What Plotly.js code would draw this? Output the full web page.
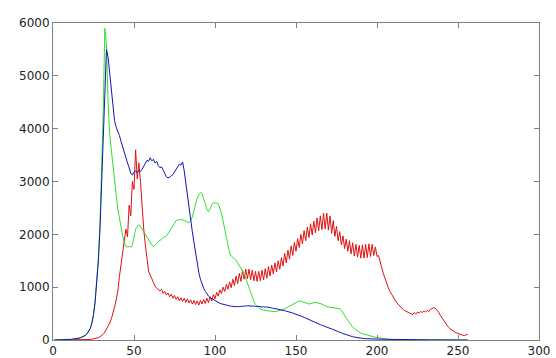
<!DOCTYPE html>
<html>
<head>
<meta charset="utf-8">
<script src="https://cdn.plot.ly/plotly-3.0.1.min.js"></script>
<style>html,body{margin:0;padding:0;background:#fff;}#chart{width:556px;height:358px;}</style>
</head>
<body>
<div id="chart"></div>
<script>
// Histogram counts per intensity bin (bins 1..256)
var blueCounts = [
0,0,0,0,2,3,5,6,8,10,12,15,18,22,28,35,45,55,70,90,
120,160,220,320,480,720,1050,1500,2100,2900,3900,4800,5500,5350,5050,4750,4420,4150,4030,3960,
3870,3760,3650,3530,3430,3350,3260,3160,3120,3180,3200,3170,3210,3190,3230,3290,3350,3400,3380,3450,
3390,3420,3350,3380,3300,3260,3280,3220,3150,3090,3070,3080,3110,3130,3180,3230,3280,3330,3310,3370,
3200,2950,2750,2500,2250,2050,1850,1650,1450,1280,1150,1050,980,920,870,830,800,780,760,740,
720,705,695,685,675,665,660,650,645,640,635,640,630,635,630,640,635,645,640,650,
645,650,640,645,635,640,630,635,625,630,620,625,615,610,605,600,595,590,580,575,
570,560,555,545,540,530,520,510,500,490,480,470,455,445,430,415,400,385,375,360,
345,330,315,300,290,280,265,255,245,235,220,210,195,185,170,160,148,135,122,110,
98,88,78,70,62,55,48,42,37,33,30,27,25,23,21,19,18,17,16,15,
15,14,14,13,13,12,12,12,11,11,10,10,10,9,9,9,8,8,8,7,
7,7,6,6,6,5,5,5,4,4,4,3,3,3,3,2,2,2,2,2,
1,1,1,1,1,1,1,0,0,0,0,0,0,0,0,0
];
var greenCounts = [
0,0,0,0,2,3,5,6,8,10,12,15,18,22,28,30,40,50,65,85,
115,155,215,320,480,730,1080,1550,2200,3100,4300,5900,5600,4500,3900,3600,3350,3000,2750,2480,
2290,2120,1970,1850,1770,1760,1770,1760,1800,1950,2100,2140,2180,2150,2100,2040,1990,1940,1890,1850,
1800,1770,1790,1820,1860,1880,1910,1940,1960,1970,2010,2060,2130,2180,2230,2260,2270,2280,2270,2280,
2260,2250,2230,2220,2260,2330,2450,2580,2680,2750,2790,2770,2690,2580,2470,2430,2480,2560,2600,2600,
2590,2580,2500,2400,2250,2100,1950,1780,1650,1590,1560,1530,1510,1460,1410,1370,1320,1250,1170,1080,
990,900,800,730,670,630,605,585,570,565,560,555,548,545,540,535,535,540,550,560,
565,575,590,610,625,640,655,670,690,710,725,740,735,720,710,700,690,680,690,700,
710,715,705,700,690,680,660,640,630,625,620,615,620,615,610,605,590,560,520,470,
420,370,320,280,245,215,190,165,145,130,120,110,100,90,80,72,65,58,52,46,
40,35,30,25,21,18,15,12,10,8,6,5,4,3,3,2,2,2,1,1,
1,1,1,1,0,0,0,0,0,0,0,0,0,0,0,0,0,0,0,0,
0,0,0,0,0,0,0,0,0,0,0,0,0,0,0,0
];
var redCounts = [
0,0,0,0,0,0,0,0,0,1,1,1,2,2,2,3,3,4,5,6,
7,8,10,15,20,28,35,45,60,80,110,150,200,260,320,400,500,620,760,920,
1200,1450,1650,1850,2100,1950,2550,2350,3000,2850,3600,3050,3350,3000,2500,2100,1800,1500,1300,1230,
1150,1080,1020,980,960,930,960,880,920,850,890,820,870,790,840,770,820,740,800,730,
790,710,780,700,760,680,750,670,740,660,750,680,770,690,790,710,820,740,860,780,
900,830,950,880,1000,920,1050,960,1100,990,1150,1030,1210,1070,1260,1110,1320,1150,1340,1160,
1340,1140,1320,1120,1300,1110,1300,1120,1320,1140,1350,1170,1390,1210,1420,1250,1460,1290,1500,1340,
1560,1400,1640,1460,1700,1530,1780,1600,1850,1680,1920,1750,2000,1820,2070,1880,2140,1940,2200,1990,
2250,2030,2310,2070,2350,2090,2400,2100,2400,2080,2350,2020,2260,1960,2150,1880,2050,1800,1970,1730,
1910,1680,1880,1630,1840,1590,1810,1570,1790,1550,1800,1550,1810,1560,1820,1580,1810,1600,1760,1580,
1600,1450,1350,1250,1150,1060,990,920,860,800,760,710,680,640,610,580,560,540,525,510,
500,480,520,490,530,510,540,520,550,530,560,540,580,590,610,600,570,530,470,420,
370,320,280,245,215,190,170,150,135,120,110,100,90,85,95,110
];
var bins = [];
for (var i = 1; i <= redCounts.length; i++) bins.push(i);

var xTicks = [0, 50, 100, 150, 200, 250, 300];
var yTicks = [0, 1000, 2000, 3000, 4000, 5000, 6000];

var traces = [
  {x: bins, y: redCounts, type: 'scatter', mode: 'lines', line: {color: '#e01010', width: 1}, hoverinfo: 'none'},
  {x: bins, y: greenCounts, type: 'scatter', mode: 'lines', line: {color: '#2ee02e', width: 1}, hoverinfo: 'none'},
  {x: bins, y: blueCounts, type: 'scatter', mode: 'lines', line: {color: '#1414b8', width: 1}, hoverinfo: 'none'}
];

var axisCommon = {
  showgrid: false, zeroline: false, showline: true, linecolor: '#808080', linewidth: 1,
  mirror: 'ticks', ticks: 'inside', ticklen: 5, tickcolor: '#808080', tickwidth: 1,
  tickfont: {family: 'DejaVu Sans, sans-serif', size: 12, color: '#222'}
};

var layout = {
  width: 556, height: 358,
  margin: {l: 53, r: 17, t: 23, b: 18},
  paper_bgcolor: '#fff', plot_bgcolor: '#fff',
  showlegend: false,
  xaxis: Object.assign({}, axisCommon, {range: [0, 300], tickvals: xTicks, ticktext: xTicks.map(String)}),
  yaxis: Object.assign({}, axisCommon, {range: [0, 6000], tickvals: yTicks, ticktext: yTicks.map(String)})
};

Plotly.newPlot('chart', traces, layout, {staticPlot: true, displayModeBar: false});
</script>
</body>
</html>
